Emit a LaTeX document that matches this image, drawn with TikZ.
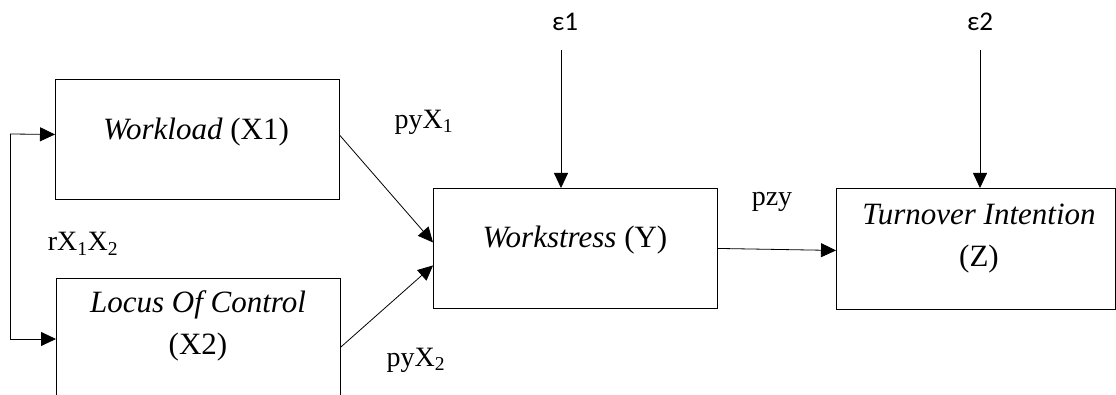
\documentclass[tikz,border=0pt]{standalone}
\usepackage{fontspec}
\setmainfont{Liberation Serif}
\newfontfamily\epsfont{Carlito}
\usetikzlibrary{arrows.meta,calc}
\tikzset{
  box/.style={draw, line width=0.9pt, inner sep=0pt, anchor=north west},
  btxt/.style={font=\fontsize{31}{42}\selectfont, inner sep=0pt},
  lbl/.style={font=\fontsize{28}{32}\selectfont, inner sep=0pt},
  elbl/.style={font=\epsfont\fontsize{27}{32}\selectfont, inner sep=0pt},
  arr/.style={line width=0.8pt, -{Triangle[length=15pt,width=14pt]}},
  ln/.style={line width=0.8pt}
}
\begin{document}
\begin{tikzpicture}[x=1pt,y=-1pt]
\clip (0,0) rectangle (1116,395);
\fill[white] (0,0) rectangle (1116,395);
% boxes
\node[box, minimum width=284pt, minimum height=120pt] (wl) at (55,79) {};
\node[box, minimum width=284pt, minimum height=160pt] (lc) at (56,278) {};
\node[box, minimum width=284pt, minimum height=120pt] (ws) at (433,188) {};
\node[box, minimum width=279pt, minimum height=121pt] (tn) at (836,188) {};
% box texts
\node[btxt] (twl) at (196,132) {\textit{Workload} (X1)};
\node[btxt, align=center] (tlc) at (198,326) {\textit{Locus Of Control}\\(X2)};
\node[btxt] (tws) at (575,240) {\textit{Workstress} (Y)};
\node[btxt, align=center] (ttn) at (979,239) {\textit{Turnover Intention}\\(Z)};
% path labels
\node[lbl] (l1) at (424,122) {pyX\textsubscript{1}};
\node[lbl] (l2) at (416,360) {pyX\textsubscript{2}};
\node[lbl] (lr) at (83,244) {rX\textsubscript{1}X\textsubscript{2}};
\node[lbl] (lz) at (772,202) {pzy};
\node[elbl] (e1) at (565,22) {ε1};
\node[elbl] (e2) at (980,22) {ε2};
% coordinates
\coordinate (b1) at (10,134);
\coordinate (b2) at (10,339);
\coordinate (e1s) at (561,50);
\coordinate (e2s) at (980,50);
% connectors
\draw[ln] (b1) -- (b2);
\draw[arr] (b1) -- ([yshift=5pt]wl.west);
\draw[arr] (b2) -- ([yshift=-61pt]lc.north west);
\draw[arr] ([yshift=4pt]wl.east) -- ([yshift=6pt]ws.west);
\draw[arr] ([yshift=-69pt]lc.north east) -- ([yshift=-17pt]ws.west);
\draw[arr] (ws.east) -- ([yshift=-1.5pt]tn.west);
\draw[arr] (e1s) -- (e1s |- ws.north);
\draw[arr] (e2s) -- (e2s |- tn.north);
\end{tikzpicture}
\end{document}
